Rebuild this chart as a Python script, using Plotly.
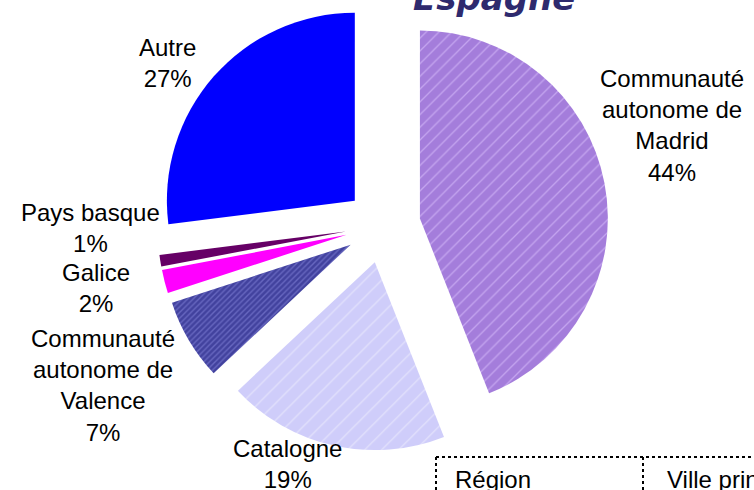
import plotly.graph_objects as go

# ---- data ----
regions = ["Communauté autonome de Madrid", "Catalogne", "Communauté autonome de Valence",
           "Galice", "Pays basque", "Autre"]
label_lines = ["Communauté<br>autonome de<br>Madrid", "Catalogne", "Communauté<br>autonome de<br>Valence",
               "Galice", "Pays basque", "Autre"]
shares = [44, 19, 7, 2, 1, 27]
title_text = "Espagne"
table_headers = ["Région", "Ville principale"]

# ---- style ----
W, H = 754, 490
colors = ["#a47ddb", "#cfcdfa", "#42429e", "#ff00ff", "#660066", "#0000ff"]
pat_shapes = ["/", "/", "/", "", "", ""]
pat_fg = ["#c4a4ef", "#e6e5fd", "#6767c0", "#ff00ff", "#660066", "#0000ff"]
pat_size = [9, 12, 4, 8, 8, 8]
pat_sol = [0.15, 0.1, 0.35, 0.1, 0.1, 0.1]
label_pos = [(672, 126), (287, 464), (103, 385), (96, 288), (90, 228), (167, 63)]

# pie box in pixels
cx, cy, box = 383, 225.5, 451
dom_x = [(cx - box / 2) / W, (cx + box / 2) / W]
dom_y = [1 - (cy + box / 2) / H, 1 - (cy - box / 2) / H]
dom_y = [max(0, dom_y[0]), min(1, dom_y[1])]

fig = go.Figure(go.Pie(
    labels=regions,
    values=shares,
    sort=False,
    direction="clockwise",
    rotation=0,
    pull=[0.2] * len(shares),
    textinfo="none",
    hoverinfo="label+percent",
    showlegend=False,
    domain=dict(x=dom_x, y=dom_y),
    marker=dict(
        colors=colors,
        line=dict(width=0),
        pattern=dict(shape=pat_shapes, bgcolor=colors, fgcolor=pat_fg,
                     size=pat_size, solidity=pat_sol, fillmode="replace"),
    ),
))

annotations = []
for txt, v, (px, py) in zip(label_lines, shares, label_pos):
    annotations.append(dict(
        text=f"{txt}<br>{v}%", x=px / W, y=1 - py / H, xref="paper", yref="paper",
        xanchor="center", yanchor="middle", align="center", showarrow=False,
        font=dict(family="Liberation Sans, Arial, sans-serif", size=24, color="#000000"),
    ))

annotations.append(dict(
    text=f"<b><i>{title_text}</i></b>", x=494 / W, y=1 - (-2) / H, xref="paper", yref="paper",
    xanchor="center", yanchor="middle", showarrow=False,
    font=dict(family="DejaVu Sans, sans-serif", size=34, color="#2e2a6e"),
))

# table header (partially visible)
tx0, ty0, tdiv = 436, 457, 643
annotations.append(dict(
    text=table_headers[0], x=453 / W, y=1 - 479 / H, xref="paper", yref="paper",
    xanchor="left", yanchor="middle", showarrow=False,
    font=dict(family="Liberation Sans, Arial, sans-serif", size=24, color="#000000"),
))
annotations.append(dict(
    text=table_headers[1], x=665 / W, y=1 - 479 / H, xref="paper", yref="paper",
    xanchor="left", yanchor="middle", showarrow=False,
    font=dict(family="Liberation Sans, Arial, sans-serif", size=24, color="#000000"),
))

dot = dict(color="#000000", width=2, dash="dot")
shapes = [
    dict(type="line", xref="paper", yref="paper", x0=tx0 / W, x1=1.05, y0=1 - ty0 / H, y1=1 - ty0 / H, line=dot),
    dict(type="line", xref="paper", yref="paper", x0=tx0 / W, x1=tx0 / W, y0=1 - ty0 / H, y1=-0.1, line=dot),
    dict(type="line", xref="paper", yref="paper", x0=tdiv / W, x1=tdiv / W, y0=1 - ty0 / H, y1=-0.1, line=dot),
]

fig.update_layout(
    width=W, height=H,
    margin=dict(l=0, r=0, t=0, b=0),
    paper_bgcolor="#ffffff",
    plot_bgcolor="#ffffff",
    annotations=annotations,
    shapes=shapes,
)

fig.write_html("out.html", config={"displayModeBar": False},
               post_script="document.body.style.margin='0';document.body.style.overflow='hidden';")
